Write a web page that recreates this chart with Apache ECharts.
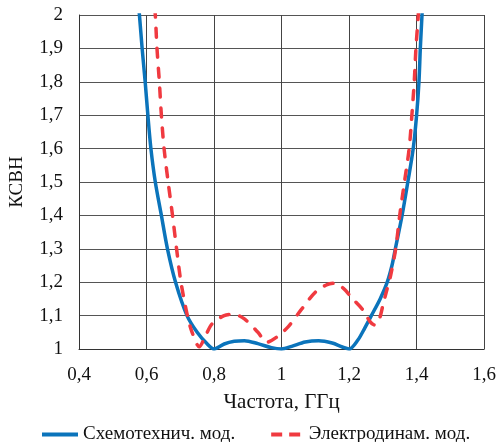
<!DOCTYPE html>
<html>
<head>
<meta charset="utf-8">
<script src="https://cdn.jsdelivr.net/npm/echarts@6/dist/echarts.min.js"></script>
<style>
  html, body { margin: 0; padding: 0; background: #fff; }
  #main { width: 499px; height: 442px; }
</style>
</head>
<body>
<div id="main"></div>
<script>
// Схемотехническая модель
var schemFreq = [0.572,0.579,0.587,0.596,0.604,0.613,0.626,0.644,0.662,0.686,0.72,0.75,0.778,0.8,0.83,0.86,0.89,0.93,0.97,1.0,1.03,1.07,1.11,1.15,1.18,1.2,1.226,1.246,1.266,1.292,1.313,1.327,1.337,1.357,1.374,1.39,1.40,1.407,1.411,1.416,1.42];
var schemVswr = [2.08,2.0,1.9,1.8,1.7,1.6,1.5,1.4,1.3,1.2,1.1,1.05,1.017,1.0,1.015,1.023,1.025,1.016,1.004,1.0,1.008,1.021,1.025,1.018,1.006,1.0,1.027,1.062,1.1,1.15,1.2,1.25,1.3,1.4,1.5,1.6,1.7,1.8,1.9,2.0,2.08];
// Электродинамическая модель
var emFreq = [0.62,0.626,0.631,0.638,0.644,0.652,0.664,0.677,0.689,0.702,0.721,0.735,0.756,0.775,0.794,0.83,0.859,0.89,0.93,0.956,0.985,1.02,1.06,1.1,1.135,1.158,1.185,1.206,1.241,1.262,1.275,1.288,1.3,1.31,1.323,1.338,1.35,1.364,1.378,1.386,1.393,1.398,1.405,1.408];
var emVswr = [2.08,2.0,1.9,1.8,1.7,1.6,1.5,1.4,1.3,1.2,1.1,1.05,1.007,1.04,1.075,1.1,1.104,1.09,1.05,1.02,1.035,1.067,1.12,1.17,1.193,1.197,1.18,1.155,1.117,1.082,1.072,1.085,1.13,1.17,1.22,1.3,1.4,1.5,1.6,1.7,1.8,1.9,2.0,2.06];

var seriesNames = ['Схемотехнич. мод.', 'Электродинам. мод.'];

function zip(xs, ys) {
  var out = [];
  for (var i = 0; i < xs.length; i++) out.push([xs[i], ys[i]]);
  return out;
}
function fmt(v) {
  return String(+v.toFixed(1)).replace('.', ',');
}

var font = "'Liberation Serif', 'Times New Roman', serif";
var blue = '#0b74bb';
var red = '#f03a40';
var myChart = echarts.init(document.getElementById('main'));
var option = {
  animation: false,
  textStyle: { fontFamily: font },
  grid: { left: 79, top: 15, right: 12, bottom: 93, containLabel: false },
  legend: {
    left: 37,
    top: 420,
    itemWidth: 36,
    itemHeight: 4,
    itemGap: 36,
    textStyle: { fontFamily: font, fontSize: 19, color: '#111' },
    data: [
      { name: seriesNames[0], icon: 'rect', itemStyle: { color: blue } },
      { name: seriesNames[1], icon: 'path://M0,0h11v4h-11z M18,0h11v4h-11z', itemStyle: { color: red } }
    ]
  },
  xAxis: {
    type: 'value',
    min: 0.4, max: 1.6, interval: 0.2,
    name: 'Частота, ГГц',
    nameLocation: 'middle',
    nameGap: 43,
    nameTextStyle: { fontFamily: font, fontSize: 21, color: '#111' },
    axisLine: { lineStyle: { color: '#333', width: 1 } },
    axisTick: { show: false },
    axisLabel: { margin: 17, fontSize: 19, color: '#111', fontFamily: font, formatter: fmt },
    splitLine: { show: true, lineStyle: { color: '#444', width: 1 } }
  },
  yAxis: {
    type: 'value',
    min: 1, max: 2, interval: 0.1,
    name: 'КСВН',
    nameLocation: 'middle',
    nameGap: 52,
    nameTextStyle: { fontFamily: font, fontSize: 19, color: '#111' },
    axisLine: { show: true, lineStyle: { color: '#333', width: 1 } },
    axisTick: { show: false },
    axisLabel: { margin: 16, fontSize: 19, color: '#111', fontFamily: font, formatter: fmt },
    splitLine: { show: true, lineStyle: { color: '#555', width: 1 } }
  },
  series: [
    {
      name: seriesNames[0],
      type: 'line',
      smooth: 0.3,
      symbol: 'none',
      clip: true,
      lineStyle: { color: blue, width: 3.5 },
      itemStyle: { color: blue },
      data: zip(schemFreq, schemVswr)
    },
    {
      name: seriesNames[1],
      type: 'line',
      smooth: 0.3,
      symbol: 'none',
      clip: true,
      lineStyle: { color: red, width: 3.5, type: [9, 11], cap: 'round' },
      itemStyle: { color: red },
      data: zip(emFreq, emVswr)
    }
  ]
};
myChart.setOption(option);
</script>
</body>
</html>
